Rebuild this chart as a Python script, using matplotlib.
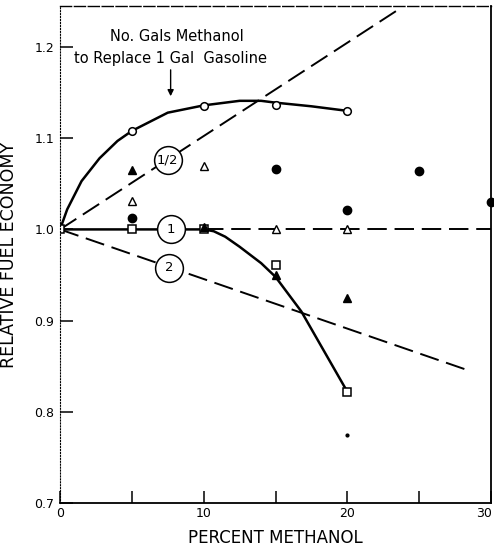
import matplotlib.pyplot as plt
import matplotlib.transforms as mtransforms

# Curves
upper_curve_x = [0, 0.5, 1.5, 2.75, 4, 5, 7.5, 10, 12.5, 14, 15, 17.5, 20]
upper_curve_y = [1.0, 1.022, 1.053, 1.078, 1.097, 1.108, 1.128, 1.136, 1.141, 1.141, 1.139, 1.135, 1.130]

lower_curve_x = [0, 5, 10, 10.7, 11.5, 12.5, 14, 15, 16.8, 18, 20]
lower_curve_y = [1.0, 1.0, 1.0, 0.998, 0.992, 0.981, 0.963, 0.948, 0.910, 0.877, 0.822]

# Dashed reference lines (No. gals methanol per gal gasoline)
half_line_x = [0, 23.45]
half_line_y = [1.0, 1.24]
one_line_x = [10, 30]
one_line_y = [1.0, 1.0]
two_line_x = [0, 28.5]
two_line_y = [1.0, 0.845]

# Data points
open_circle_x = [5, 10, 15, 20]
open_circle_y = [1.108, 1.135, 1.136, 1.130]
open_square_x = [0, 5, 10, 15, 20]
open_square_y = [1.0, 1.0, 1.0, 0.9615, 0.822]
filled_tri_x = [5, 10, 15, 20]
filled_tri_y = [1.065, 1.003, 0.9505, 0.925]
open_tri_x = [5, 10, 15, 20]
open_tri_y = [1.031, 1.0695, 1.0, 1.0]
filled_circle_x = [5, 15, 20, 25, 30]
filled_circle_y = [1.013, 1.066, 1.021, 1.064, 1.030]
dot_x = [20]
dot_y = [0.775]

# Circled labels on the dashed lines
ratio_labels = ["1/2", "1", "2"]
ratio_label_x = [7.5, 7.7, 7.6]
ratio_label_y = [1.0765, 1.0, 0.958]

fig = plt.figure(figsize=(4.94, 5.48), dpi=100)
ax = fig.add_axes([0.1215, 0.0821, 0.8724, 0.907])

ax.plot(upper_curve_x, upper_curve_y, color='black', lw=1.8)
ax.plot(lower_curve_x, lower_curve_y, color='black', lw=1.8)
for xs, ys in [(half_line_x, half_line_y), (one_line_x, one_line_y), (two_line_x, two_line_y)]:
    ax.plot(xs, ys, color='black', lw=1.4, dashes=(10, 4))

ax.plot(open_circle_x, open_circle_y, 'o', ms=5.5, mfc='white', mec='black', mew=1.1, ls='none')
ax.plot(open_square_x, open_square_y, 's', ms=5.5, mfc='white', mec='black', mew=1.1, ls='none')
ax.plot(filled_tri_x, filled_tri_y, '^', ms=6, color='black', ls='none')
ax.plot(open_tri_x, open_tri_y, '^', ms=5.5, mfc='white', mec='black', mew=1.0, ls='none')
ax.plot(filled_circle_x, filled_circle_y, 'o', ms=6, color='black', ls='none', clip_on=False)
ax.plot(dot_x, dot_y, 'o', ms=2, color='black', ls='none')

for lab, x, y in zip(ratio_labels, ratio_label_x, ratio_label_y):
    ax.plot(x, y, 'o', ms=20, mfc='white', mec='black', mew=1.1, zorder=4)
    ax.text(x, y, lab, ha='center', va='center', fontsize=9.5, zorder=5)

# Annotation with arrow
ax.text(8.1, 1.212, "No. Gals Methanol", ha='center', va='center', fontsize=10.5)
ax.text(7.7, 1.187, "to Replace 1 Gal  Gasoline", ha='center', va='center', fontsize=10.5)
ax.annotate("", xy=(7.7, 1.143), xytext=(7.7, 1.178),
            arrowprops=dict(arrowstyle='-|>', color='black', lw=1.0, mutation_scale=9))

ax.set_xlim(0, 30)
ax.set_ylim(0.7, 1.245)
ax.set_xticks([0, 5, 10, 15, 20, 25, 30])
ax.set_xticklabels(["0", "", "10", "", "20", "", "30"])
ax.set_yticks([0.7, 0.8, 0.9, 1.0, 1.1, 1.2])
ax.set_yticklabels(["0.7", "0.8", "0.9", "1.0", "1.1", "1.2"])
ax.tick_params(direction='in', length=9, width=1.1, labelsize=9, pad=3)
ax.tick_params(axis='y', pad=4)

# keep the "30" inside the figure edge
last = ax.get_xticklabels()[-1]
last.set_transform(last.get_transform() + mtransforms.ScaledTranslation(-7 / 100, 0, fig.dpi_scale_trans))

ax.spines['left'].set_linestyle(':')
ax.spines['top'].set_linestyle((0, (8, 2)))
ax.spines['top'].set_linewidth(1.0)
for s in ['bottom', 'right']:
    ax.spines[s].set_linewidth(1.3)

ax.set_xlabel("PERCENT METHANOL", fontsize=12, labelpad=6)
ax.set_ylabel("RELATIVE FUEL ECONOMY", fontsize=12.5)
ax.yaxis.set_label_coords(-0.098, 0.5)

fig.savefig("out.png", dpi=100)
